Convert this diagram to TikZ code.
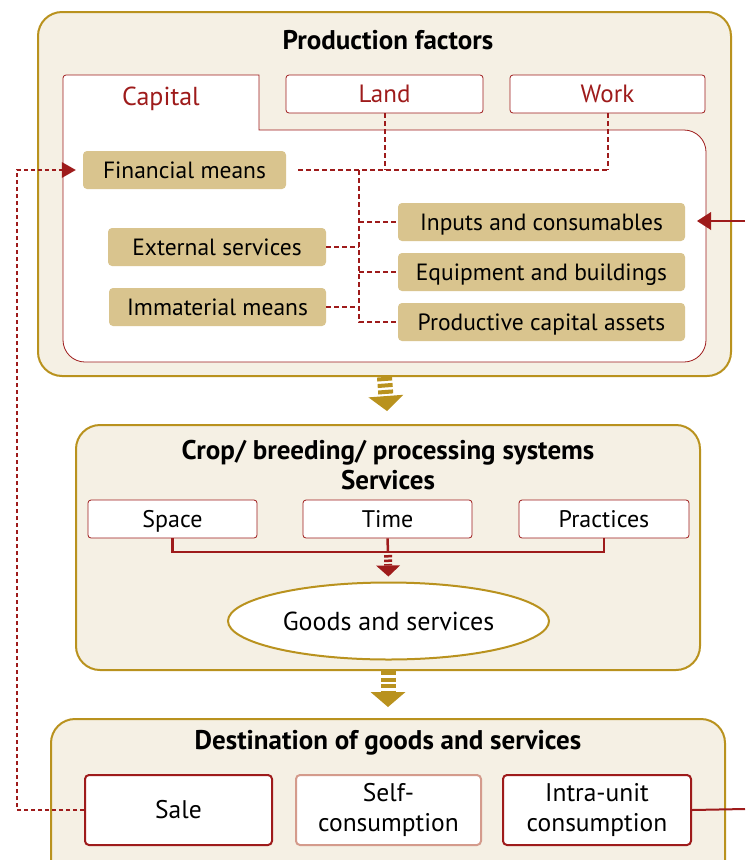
\documentclass[tikz,border=0pt]{standalone}
\usepackage{fontspec}
\setmainfont{PT Sans}
\usetikzlibrary{arrows.meta}
\usetikzlibrary{shapes}

\definecolor{goldLine}{RGB}{185,146,30}
\definecolor{cream}{RGB}{245,240,228}
\definecolor{tan}{RGB}{217,196,142}
\definecolor{darkRed}{RGB}{158,27,27}
\definecolor{pinkLine}{RGB}{212,155,140}

\begin{document}
\begin{tikzpicture}[x = 1pt, y = -1pt]
	\tikzstyle{frameStyle} = [draw = goldLine, line width = 2pt, fill = cream, rounded corners = 24pt, inner sep = 0pt]
	\tikzstyle{titleStyle} = [font = \fontsize{27}{30}\selectfont\bfseries, align = center]
	\tikzstyle{factorStyle} = [draw = darkRed, line width = 0.8pt, fill = white, rounded corners = 3pt, minimum height = 38pt, inner sep = 0pt, text height = 17.5pt, text depth = 0pt, text = darkRed, font = \fontsize{25}{28}\selectfont]
	\tikzstyle{meansStyle} = [fill = tan, rounded corners = 4pt, minimum height = 38pt, inner sep = 0pt, text height = 16.5pt, text depth = 0pt, font = \fontsize{23.5}{26}\selectfont]
	\tikzstyle{serviceStyle} = [draw = darkRed, line width = 0.8pt, fill = white, rounded corners = 3pt, minimum height = 38pt, inner sep = 0pt, text height = 17pt, text depth = 0pt, font = \fontsize{24}{26}\selectfont]
	\tikzstyle{destStyle} = [draw = darkRed, line width = 2pt, fill = white, rounded corners = 4pt, minimum height = 70pt, inner sep = 0pt, align = center, font = \fontsize{25.5}{30}\selectfont]
	\tikzstyle{linkStyle} = [draw = darkRed, line width = 2pt, dash pattern = on 5pt off 3pt]
	\tikzstyle{loopStyle} = [draw = darkRed, line width = 1.6pt, dash pattern = on 4pt off 3pt, -{Triangle[width = 16pt, length = 14pt, line width = 0pt]}]
	\tikzstyle{inStyle} = [draw = darkRed, line width = 2pt, -{Triangle[width = 18pt, length = 14pt, line width = 0pt]}]
	\tikzstyle{joinStyle} = [draw = darkRed, line width = 2.5pt]
	\tikzstyle{flowStyle} = [draw = goldLine, line width = 15pt, dash pattern = on 4pt off 2.5pt, -{Triangle[width = 35pt, length = 15pt, line width = 0pt]}]
	\tikzstyle{smallFlowStyle} = [draw = darkRed, line width = 8pt, dash pattern = on 2.5pt off 2pt, -{Triangle[width = 24pt, length = 11pt, line width = 0pt]}]
	\useasboundingbox (0,0) rectangle (745,860);
	\clip (0,0) rectangle (745,860);
	% frames
	\node[frameStyle, minimum width = 693pt, minimum height = 364pt] (prod) at (384.5,194) {};
	\node[frameStyle, minimum width = 624pt, minimum height = 245pt] (crop) at (388,547.5) {};
	\node[frameStyle, minimum width = 674pt, minimum height = 166pt] (dest) at (388,802) {};
	\node[titleStyle] (prodTitle) at (388,40) {Production factors};
	\node[titleStyle] (cropTitle) at (388,465) {Crop/ breeding/ processing systems\\Services};
	\node[titleStyle] (destTitle) at (388,743) {Destination of goods and services};
	% capital tab
	\draw[darkRed, line width = 0.8pt, fill = white] (160,75) -- (259,75) -- (259,130) [rounded corners = 22pt] -- (706,130) -- (706,362) -- (63,362) [rounded corners = 3pt] -- (63,75) -- cycle;
	\node[text = darkRed, text height = 18pt, text depth = 0pt, inner sep = 0pt, font = \fontsize{26}{28}\selectfont] (capital) at (161,96) {Capital};
	\node[factorStyle, minimum width = 197pt] (land) at (384.5,94) {Land};
	\node[factorStyle, minimum width = 195pt] (work) at (607.5,94) {Work};
	% means
	\node[meansStyle, minimum width = 203pt] (fin) at (184.5,170) {Financial means};
	\node[meansStyle, minimum width = 218pt] (ext) at (217,247) {External services};
	\node[meansStyle, minimum width = 217pt] (imm) at (217.5,307) {Immaterial means};
	\node[meansStyle, minimum width = 287pt] (inp) at (541.5,222) {Inputs and consumables};
	\node[meansStyle, minimum width = 287pt] (equ) at (541.5,272) {Equipment and buildings};
	\node[meansStyle, minimum width = 287pt] (prd) at (541.5,322) {Productive capital assets};
	\coordinate (trunk) at (359,170);
	\draw[linkStyle] ([xshift = 12pt]fin.east) -- (work.south |- fin.east);
	\draw[linkStyle] (land.south) -- (land.south |- fin.east);
	\draw[linkStyle] (work.south) -- (work.south |- fin.east);
	\draw[linkStyle] (trunk) |- (prd.west);
	\draw[linkStyle] (trunk |- inp.west) -- (inp.west);
	\draw[linkStyle] (trunk |- equ.west) -- (equ.west);
	\draw[linkStyle] (ext.east) -- (trunk |- ext.east);
	\draw[linkStyle] (imm.east) -- (trunk |- imm.east);
	% systems
	\node[serviceStyle, minimum width = 169pt] (space) at (172.5,519) {Space};
	\node[serviceStyle, minimum width = 169pt] (time) at (387.5,519) {Time};
	\node[serviceStyle, minimum width = 170pt] (practices) at (604,519) {Practices};
	\node[draw = goldLine, line width = 2pt, fill = white, ellipse, minimum width = 321pt, minimum height = 77pt, inner sep = 0pt, font = \fontsize{26}{28}\selectfont] (goods) at (388.5,621) {Goods and services};
	\coordinate (join) at (388,552);
	\coordinate (joinDown) at (388,555);
	\draw[joinStyle] (space.south) |- (join) -| (practices.south);
	\draw[joinStyle] (time.south) -- (join);
	\draw[smallFlowStyle, shorten >= 5pt] (joinDown) -- (goods.north);
	% destinations
	\node[destStyle, minimum width = 187pt] (sale) at (178.5,810) {Sale};
	\node[destStyle, draw = pinkLine, minimum width = 185pt] (self) at (388.5,810) {Self-\\consumption};
	\node[destStyle, minimum width = 188pt] (intra) at (597,810) {Intra-unit\\consumption};
	% flows
	\draw[flowStyle, shorten >= 13pt] (prod.south) -- (crop.north);
	\draw[flowStyle, shorten >= 11pt] (crop.south) -- (dest.north);
	\coordinate (loopX) at (17,0);
	\draw[loopStyle, shorten >= 7pt] (sale.west) -- (sale.west -| loopX) |- (fin.west);
	\coordinate (inR) at (745,221);
	\coordinate (inTip) at (697,221);
	\draw[inStyle] (inR) -- (inTip);
	\coordinate (outR) at (745,809);
	\draw[joinStyle, line width = 2pt] (intra.east) -- (outR);
\end{tikzpicture}
\end{document}
